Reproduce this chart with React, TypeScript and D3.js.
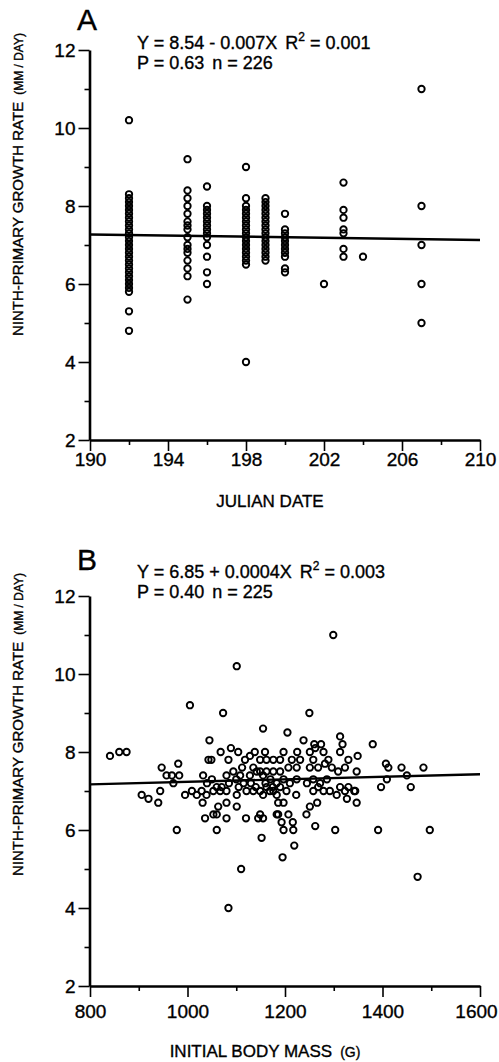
import { useEffect, useRef } from 'react'
import * as d3 from 'd3'

const W = 499
const H = 1062
const FONT = '"Liberation Sans", Arial, Helvetica, sans-serif'

// Panel A: julian dates and the growth rates recorded on each date
const datesA = [192, 195, 196, 198, 199, 200, 202, 203, 204, 207]
const ratesA = [
  [10.2, 8.3, 8.2, 8.1, 8.0, 7.9, 7.8, 7.7, 7.6, 7.5, 7.4, 7.3, 7.2, 7.1, 7.0, 6.9, 6.8, 6.7, 6.6, 6.5, 6.4, 6.3, 6.2, 6.1, 6.0, 5.9, 5.8, 5.3, 4.8],
  [9.2, 8.4, 8.2, 8.0, 7.8, 7.6, 7.5, 7.4, 7.2, 7.0, 6.9, 6.8, 6.6, 6.4, 6.2, 5.6],
  [8.5, 8.0, 7.9, 7.8, 7.7, 7.6, 7.5, 7.4, 7.3, 7.2, 7.0, 6.7, 6.3, 6.0],
  [9.0, 8.2, 8.0, 7.9, 7.8, 7.7, 7.6, 7.5, 7.4, 7.3, 7.2, 7.1, 7.0, 6.9, 6.8, 6.7, 6.6, 6.5, 4.0],
  [8.2, 8.1, 8.0, 7.9, 7.8, 7.7, 7.6, 7.5, 7.4, 7.3, 7.2, 7.1, 7.0, 6.9, 6.8, 6.7, 6.6],
  [7.8, 7.4, 7.3, 7.2, 7.1, 7.0, 6.9, 6.8, 6.7, 6.4, 6.3],
  [6.0],
  [8.6, 7.9, 7.7, 7.4, 7.3, 6.9, 6.7],
  [6.7],
  [11.0, 8.0, 7.0, 6.0, 5.0],
]
const fitA: [number, number][] = [[190, 7.27], [210, 7.13]]
const xTicksA = [190, 194, 198, 202, 206, 210]
const xMinorA = [192, 196, 200, 204, 208]

// Panel B: [initial body mass (g), growth rate]
const pointsB: [number, number][] = [
  [1299, 11.0], [1101, 10.2], [1005, 9.2], [1073, 9.0], [1250, 9.0], [1155, 8.6], [1205, 8.5],
  [1313, 8.4], [1238, 8.3], [1045, 8.3], [1318, 8.2], [1380, 8.2], [1260, 8.2], [1274, 8.2],
  [841, 7.9], [860, 8.0], [875, 8.0], [1068, 8.0], [1089, 8.1], [1104, 8.0], [1138, 8.0],
  [1159, 8.0], [1197, 8.0], [1225, 8.0], [1251, 8.0], [1262, 8.1], [1279, 8.0], [1313, 8.0],
  [1349, 7.9], [1330, 7.8], [947, 7.6], [981, 7.7], [1043, 7.8], [1049, 7.8], [1084, 7.8],
  [1118, 7.8], [1128, 7.9], [1149, 7.8], [1162, 7.8], [1176, 7.8], [1190, 7.8], [1214, 7.8],
  [1231, 7.8], [1258, 7.8], [1289, 7.8], [1112, 7.6], [1135, 7.6], [957, 7.4], [968, 7.4],
  [983, 7.4], [971, 7.2], [1032, 7.4], [1050, 7.3], [1080, 7.4], [1094, 7.5], [1108, 7.4],
  [1128, 7.4], [1142, 7.5], [1155, 7.4], [1176, 7.5], [1149, 7.5], [1162, 7.5], [1190, 7.5],
  [1207, 7.6], [1224, 7.6], [1251, 7.6], [1268, 7.6], [1282, 7.7], [1296, 7.6], [1309, 7.5],
  [1323, 7.6], [1347, 7.5], [1407, 7.7], [1412, 7.6], [1439, 7.6], [1484, 7.6], [1450, 7.4],
  [1409, 7.3], [1397, 7.1], [1458, 7.1], [1170, 7.3], [1183, 7.2], [1197, 7.3], [1210, 7.2],
  [1224, 7.3], [1245, 7.2], [1258, 7.3], [1272, 7.2], [1286, 7.3], [1149, 7.0], [1162, 7.1],
  [1176, 7.0], [1190, 7.1], [1203, 7.0], [1258, 7.0], [1268, 7.1], [1279, 7.0], [1292, 7.0],
  [1313, 7.1], [1323, 7.0], [1330, 7.1], [1344, 7.0], [995, 6.9], [1009, 7.0], [1019, 6.9],
  [1029, 7.0], [1039, 6.9], [1053, 7.0], [1067, 7.0], [1080, 7.0], [1101, 6.9], [1121, 7.0],
  [1135, 7.0], [1155, 6.9], [1169, 7.0], [1183, 6.9], [906, 6.9], [920, 6.8], [940, 6.7],
  [944, 7.0], [1085, 7.2], [1100, 7.3], [1115, 7.2], [1130, 7.2], [1140, 7.1], [1160, 7.2],
  [1175, 7.1], [1105, 7.1], [1070, 7.1], [1040, 7.2], [1060, 7.1], [1031, 6.7], [1063, 6.6],
  [1080, 6.7], [1101, 6.6], [1036, 6.3], [1053, 6.4], [1060, 6.4], [1080, 6.3], [1120, 6.3],
  [1145, 6.3], [1149, 6.4], [1155, 6.3], [1183, 6.4], [978, 6.0], [1060, 6.0], [1152, 5.8],
  [1110, 5.0], [1084, 4.0], [1197, 6.0], [1217, 6.0], [1195, 5.3], [1219, 5.6], [1303, 6.0],
  [1391, 6.0], [1497, 6.0], [1472, 4.8], [1223, 6.9], [1306, 6.9], [1327, 6.8], [1342, 7.0],
  [1347, 6.7], [1186, 6.7], [1197, 6.7], [1266, 6.7], [1251, 6.6], [1244, 6.4], [1186, 6.4],
  [1207, 6.4], [1193, 6.2], [1216, 6.2], [1262, 6.1],
]
const fitB: [number, number][] = [[800, 7.17], [1600, 7.43]]
const xTicksB = [800, 1000, 1200, 1400, 1600]
const xMinorB = [900, 1100, 1300, 1500]

const yTicks = [2, 4, 6, 8, 10, 12]
const yMinor = [3, 5, 7, 9, 11]

// scanned print looks heavier than plain Liberation Sans
const ink = (sel) => sel.attr('stroke', '#000').attr('stroke-width', 0.35)

function drawPanel(svg, o) {
  const x = d3.scaleLinear().domain(o.xDomain).range([90, 480])
  const y = d3.scaleLinear().domain([2, 12]).range([o.bottom, o.bottom - 390])
  const g = svg.append('g')

  const styleAxis = (sel) => {
    sel.selectAll('text').attr('font-family', FONT).attr('font-size', 19).attr('fill', '#000').call(ink)
    sel.selectAll('line').attr('stroke', '#000').attr('stroke-width', 1.6)
    sel.select('.domain').attr('stroke', '#000').attr('stroke-width', 2.6)
  }

  g.append('g')
    .attr('transform', `translate(0,${o.bottom})`)
    .call(d3.axisBottom(x).tickValues(o.xMinor).tickSize(5).tickFormat(() => ''))
    .call((s) => s.select('.domain').remove())
    .call(styleAxis)
  g.append('g')
    .attr('transform', `translate(89.5,0)`)
    .call(d3.axisLeft(y).tickValues(yMinor).tickSize(5).tickFormat(() => ''))
    .call((s) => s.select('.domain').remove())
    .call(styleAxis)
  g.append('g')
    .attr('transform', `translate(0,${o.bottom})`)
    .call(d3.axisBottom(x).tickValues(o.xTicks).tickFormat(d3.format('d')).tickSize(11).tickSizeOuter(0).tickPadding(o.xPad))
    .call(styleAxis)
    // keep the last label inside the page
    .call((s) => s.selectAll('.tick:last-of-type text').attr('dx', o.lastDx))
  g.append('g')
    .attr('transform', `translate(89.5,0)`)
    .call(d3.axisLeft(y).tickValues(yTicks).tickSize(11).tickSizeOuter(0).tickPadding(3))
    .call(styleAxis)

  const line = d3.line().x((d) => x(d[0])).y((d) => y(d[1]))
  g.append('path')
    .attr('d', line(o.fit))
    .attr('fill', 'none')
    .attr('stroke', '#000')
    .attr('stroke-width', 2.4)

  g.selectAll('circle.pt')
    .data(o.points)
    .enter()
    .append('circle')
    .attr('class', 'pt')
    .attr('cx', (d) => x(d[0]))
    .attr('cy', (d) => y(d[1]))
    .attr('r', 3.2)
    .attr('fill', 'none')
    .attr('stroke', '#000')
    .attr('stroke-width', 1.9)

  const t = (px, py, size, str, anchor = 'start') =>
    g.append('text')
      .attr('x', px)
      .attr('y', py)
      .attr('font-family', FONT)
      .attr('font-size', size)
      .attr('text-anchor', anchor)
      .attr('fill', '#000')
      .call(ink)
      .text(str)

  t(77, o.letterY, 30, o.letter)
  const eq = t(137, o.eqY, 18, o.eq1)
  eq.append('tspan').attr('dx', 8).text('R')
  eq.append('tspan').attr('font-size', 12).attr('dy', -8).text('2')
  eq.append('tspan').attr('dy', 8).text(' = ' + o.r2)
  const p = t(137, o.eqY + 20, 18, o.eq2a)
  p.append('tspan').attr('dx', 8).text(o.eq2b)

  // y title, rotated
  const yt = g.append('text')
    .attr('transform', `translate(23,${o.yTitleStart}) rotate(-90)`)
    .attr('font-family', FONT)
    .attr('font-size', 15)
    .attr('fill', '#000')
    .call(ink)
    .text('NINTH-PRIMARY GROWTH RATE')
  yt.append('tspan').attr('dx', 7).attr('font-size', 12).text('(MM / DAY)')

  const xt = t(o.xTitleX, o.xTitleY, 17, o.xTitle, 'middle')
  if (o.xTitleUnit) xt.append('tspan').attr('dx', 8).attr('font-size', 14).text(o.xTitleUnit)
}

export default function App() {
  const ref = useRef(null)

  useEffect(() => {
    const svg = d3.select(ref.current)
    svg.selectAll('*').remove()

    const pointsA = datesA.flatMap((d, i) => ratesA[i].map((r) => [d, r]))

    drawPanel(svg, {
      letter: 'A', letterY: 30, eqY: 49,
      eq1: 'Y = 8.54 - 0.007X', r2: '0.001', eq2a: 'P = 0.63', eq2b: 'n = 226',
      xDomain: [190, 210], xTicks: xTicksA, xMinor: xMinorA, xPad: 2, lastDx: 0,
      bottom: 440, points: pointsA, fit: fitA,
      yTitleStart: 336, xTitle: 'JULIAN DATE', xTitleX: 270, xTitleY: 507,
    })
    drawPanel(svg, {
      letter: 'B', letterY: 570, eqY: 578,
      eq1: 'Y = 6.85 + 0.0004X', r2: '0.003', eq2a: 'P = 0.40', eq2b: 'n = 225',
      xDomain: [800, 1600], xTicks: xTicksB, xMinor: xMinorB, xPad: 8, lastDx: -4,
      bottom: 986, points: pointsB, fit: fitB,
      yTitleStart: 876, xTitle: 'INITIAL BODY MASS', xTitleX: 265, xTitleY: 1057, xTitleUnit: '(G)',
    })
  }, [])

  return (
    <div style={{ position: 'absolute', left: 0, top: 0, width: W, height: H, background: '#fff' }}>
      <svg ref={ref} width={W} height={H} style={{ display: 'block' }} />
    </div>
  )
}
